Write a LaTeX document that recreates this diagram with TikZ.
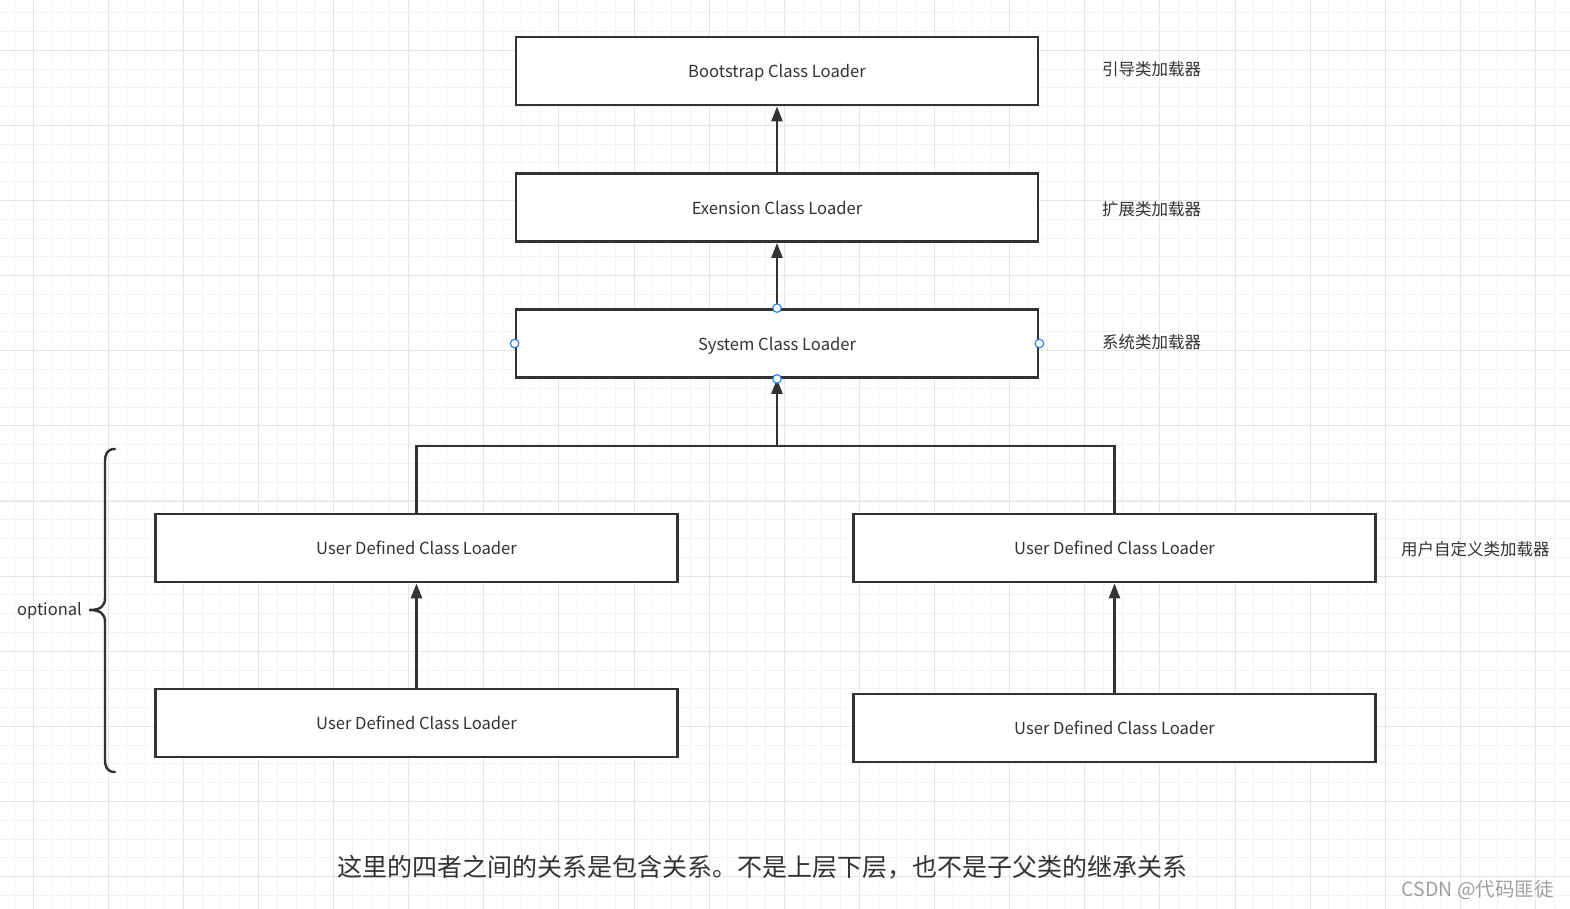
\documentclass[tikz,border=0pt]{standalone}
\usepackage{fontspec}
\setmainfont{Noto Sans CJK SC}
\usetikzlibrary{arrows.meta}
\definecolor{ink}{HTML}{333333}
\definecolor{gridminor}{HTML}{F3F3F3}
\definecolor{gridmajor}{HTML}{E5E5E5}
\definecolor{portblue}{HTML}{1E7EF0}
\definecolor{wm}{HTML}{A0A0A0}
\tikzset{
  loader/.style={draw=ink, line width=2.8pt, fill=white, minimum width=522pt, minimum height=68pt, inner sep=0pt, text=ink, text depth=0pt, font=\fontsize{16.6}{18}\selectfont},
  note/.style={text=ink, inner sep=0pt, font=\fontsize{16.5}{18}\selectfont, anchor=west},
  arr/.style={draw=ink, line width=2.6pt, -{Triangle[width=11pt,length=15pt]}},
  link/.style={draw=ink, line width=2.6pt},
  port/.style={circle, draw=portblue, fill=white, line width=1.1pt, minimum size=8.5pt, inner sep=0pt},
}
\begin{document}
\begin{tikzpicture}[x=1pt,y=-1pt]
\useasboundingbox (0,0) rectangle (1570,909);
\fill[white] (0,0) rectangle (1570,909);
% grid
\foreach \i in {0,...,83} {\draw[gridminor, line width=1pt] (14.3+18.78*\i,0) -- (14.3+18.78*\i,909);}
\foreach \i in {0,...,48} {\draw[gridminor, line width=1pt] (0,12.7+18.78*\i) -- (1570,12.7+18.78*\i);}
\foreach \i in {0,...,20} {\draw[gridmajor, line width=1pt] (33.1+75.12*\i,0) -- (33.1+75.12*\i,909);}
\foreach \i in {0,...,12} {\draw[gridmajor, line width=1pt] (0,50.3+75.12*\i) -- (1570,50.3+75.12*\i);}

% boxes
\node[loader] (boot) at (777,71) {Bootstrap Class Loader};
\node[loader] (ext) at (777,207.5) {Exension Class Loader};
\node[loader] (sys) at (777,343.5) {System Class Loader};
\node[loader] (lt) at (416.5,548) {User Defined Class Loader};
\node[loader] (rt) at (1114.5,548) {User Defined Class Loader};
\node[loader] (lb) at (416.5,723) {User Defined Class Loader};
\node[loader] (rb) at (1114.5,728) {User Defined Class Loader};

% connectors
\coordinate (j) at (777,446);
\draw[arr] (ext.north) -- (boot.south);
\draw[arr] (sys.north) -- (ext.south);
\draw[link] (lt.north) |- (j) -| (rt.north);
\draw[arr] (j) -- (sys.south);
\draw[arr] (lb.north) -- (lt.south);
\draw[arr] (rb.north) -- (rt.south);

% ports
\node[port] (p1) at (sys.north) {};
\node[port] (p2) at (sys.south) {};
\node[port] (p3) at (sys.west) {};
\node[port] (p4) at (sys.east) {};

% labels
\node[note] (n1) at (1102,69) {引导类加载器};
\node[note] (n2) at (1102,209) {扩展类加载器};
\node[note] (n3) at (1102,342) {系统类加载器};
\node[note] (n4) at (1401,549) {用户自定义类加载器};

% brace
\draw[ink, line width=2.4pt, line cap=round] (115,449) .. controls (107,449) and (105,454) .. (105,462) -- (105,598) .. controls (105,606) and (101,610) .. (89,610) .. controls (101,610) and (105,614) .. (105,622) -- (105,759) .. controls (105,767) and (107,772) .. (115,772);
\node[text=ink, inner sep=0pt, anchor=east, font=\fontsize{16.5}{19}\selectfont] (opt) at (82,611) {optional};

% caption
\node[text=ink, inner sep=0pt, anchor=west, font=\fontsize{25}{28}\selectfont] (cap) at (337,867) {这里的四者之间的关系是包含关系。不是上层下层，也不是子父类的继承关系};
\node[text=wm, inner sep=0pt, anchor=east, font=\fontsize{19.5}{21}\selectfont] (wmk) at (1554,890) {CSDN @代码匪徒};
\end{tikzpicture}
\end{document}
